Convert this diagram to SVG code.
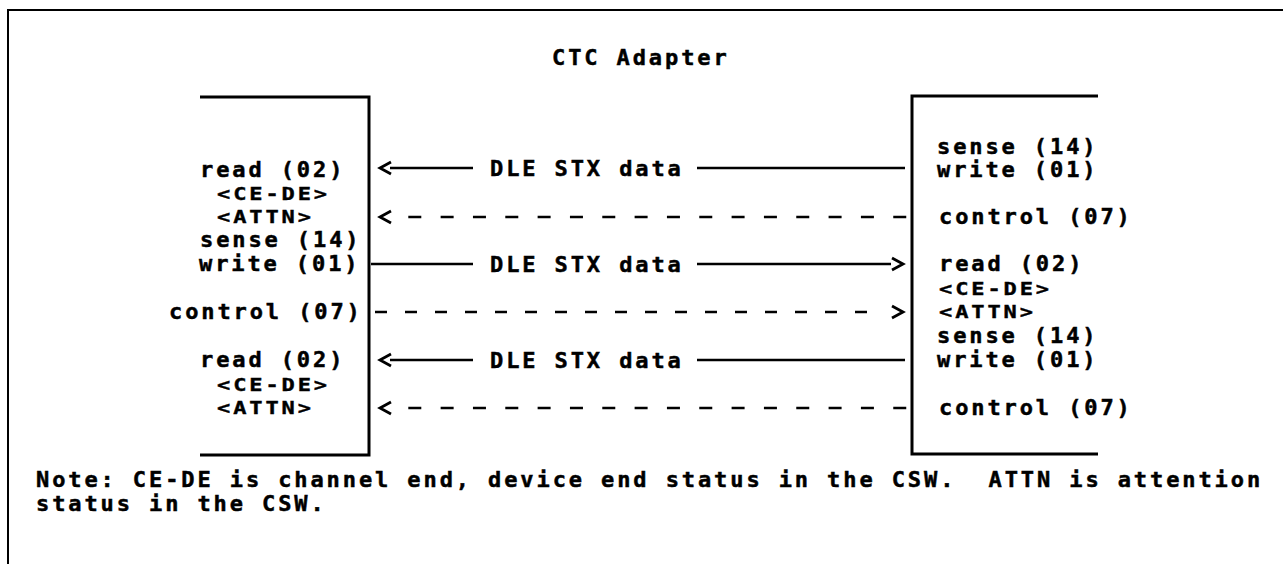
<svg xmlns="http://www.w3.org/2000/svg" xmlns:xlink="http://www.w3.org/1999/xlink" width="1283" height="564" viewBox="0 0 1283 564" xml:space="preserve">
<style>
  text { font-family: "DejaVu Sans Mono", "Liberation Mono", monospace; font-weight: bold; font-size: 22px; letter-spacing: 2.9px; fill: #000; stroke: #000; stroke-width: 0.5px; white-space: pre; }
  .frame { fill: none; stroke: #000; stroke-width: 2; }
  .box { fill: none; stroke: #000; stroke-width: 3; }
  .line { fill: none; stroke: #000; stroke-width: 2.5; }
  .dash2 { stroke-dasharray: 13 19.33; }
  .dash4 { stroke-dasharray: 12 18; }
  .head { fill: none; stroke: #000; stroke-width: 2.8; stroke-linejoin: miter; }
</style>
<defs>
  <path id="ahL" class="head" d="M11,-6 L0,0 L11,6"/>
  <path id="ahR" class="head" d="M-11,-6 L0,0 L-11,6"/>
</defs>
<rect width="1283" height="564" fill="#fff"/>
<g id="frame">
  <path class="frame" d="M8,564 V10 H1283"/>
</g>
<g id="title">
  <text x="552" y="65">CTC Adapter</text>
</g>
<g id="node-left">
  <path class="box" d="M200,97 H369 V455 H200"/>
  <text x="200" y="177">read (02)</text>
  <text transform="translate(217,200) scale(1,0.8)">&lt;CE-DE&gt;</text>
  <text transform="translate(217,223) scale(1,0.8)">&lt;ATTN&gt;</text>
  <text x="200" y="247">sense (14)</text>
  <text x="199" y="271">write (01)</text>
  <text x="169" y="319">control (07)</text>
  <text x="200" y="367">read (02)</text>
  <text transform="translate(217,391) scale(1,0.8)">&lt;CE-DE&gt;</text>
  <text transform="translate(217,414) scale(1,0.8)">&lt;ATTN&gt;</text>
</g>
<g id="node-right">
  <path class="box" d="M1098,96 H912 V454 H1098"/>
  <text x="937" y="154">sense (14)</text>
  <text x="937" y="177">write (01)</text>
  <text x="939" y="224">control (07)</text>
  <text x="939" y="271">read (02)</text>
  <text transform="translate(939,295) scale(1,0.8)">&lt;CE-DE&gt;</text>
  <text transform="translate(939,318) scale(1,0.8)">&lt;ATTN&gt;</text>
  <text x="937" y="343">sense (14)</text>
  <text x="937" y="367">write (01)</text>
  <text x="939" y="415">control (07)</text>
</g>
<g id="connectors">
  <g id="c1">
    <use xlink:href="#ahL" x="380" y="168"/>
    <path class="line" d="M390,168 H473"/>
    <text x="490" y="176">DLE STX data</text>
    <path class="line" d="M697,168 H905"/>
  </g>
  <g id="c2">
    <use xlink:href="#ahL" x="380" y="217"/>
    <path class="line dash2" d="M408.3,217 H906.3"/>
  </g>
  <g id="c3">
    <path class="line" d="M371,264 H473"/>
    <text x="490" y="272">DLE STX data</text>
    <path class="line" d="M697,264 H891"/>
    <use xlink:href="#ahR" x="903" y="264"/>
  </g>
  <g id="c4">
    <path class="line dash4" d="M375,312 H867"/>
    <use xlink:href="#ahR" x="903" y="312"/>
  </g>
  <g id="c5">
    <use xlink:href="#ahL" x="380" y="360"/>
    <path class="line" d="M390,360 H473"/>
    <text x="490" y="368">DLE STX data</text>
    <path class="line" d="M697,360 H905"/>
  </g>
  <g id="c6">
    <use xlink:href="#ahL" x="380" y="408"/>
    <path class="line dash2" d="M408.3,408 H906.3"/>
  </g>
</g>
<g id="note">
  <text x="36" y="487">Note: CE-DE is channel end, device end status in the CSW.  ATTN is attention</text>
  <text x="36" y="511">status in the CSW.</text>
</g>
</svg>
